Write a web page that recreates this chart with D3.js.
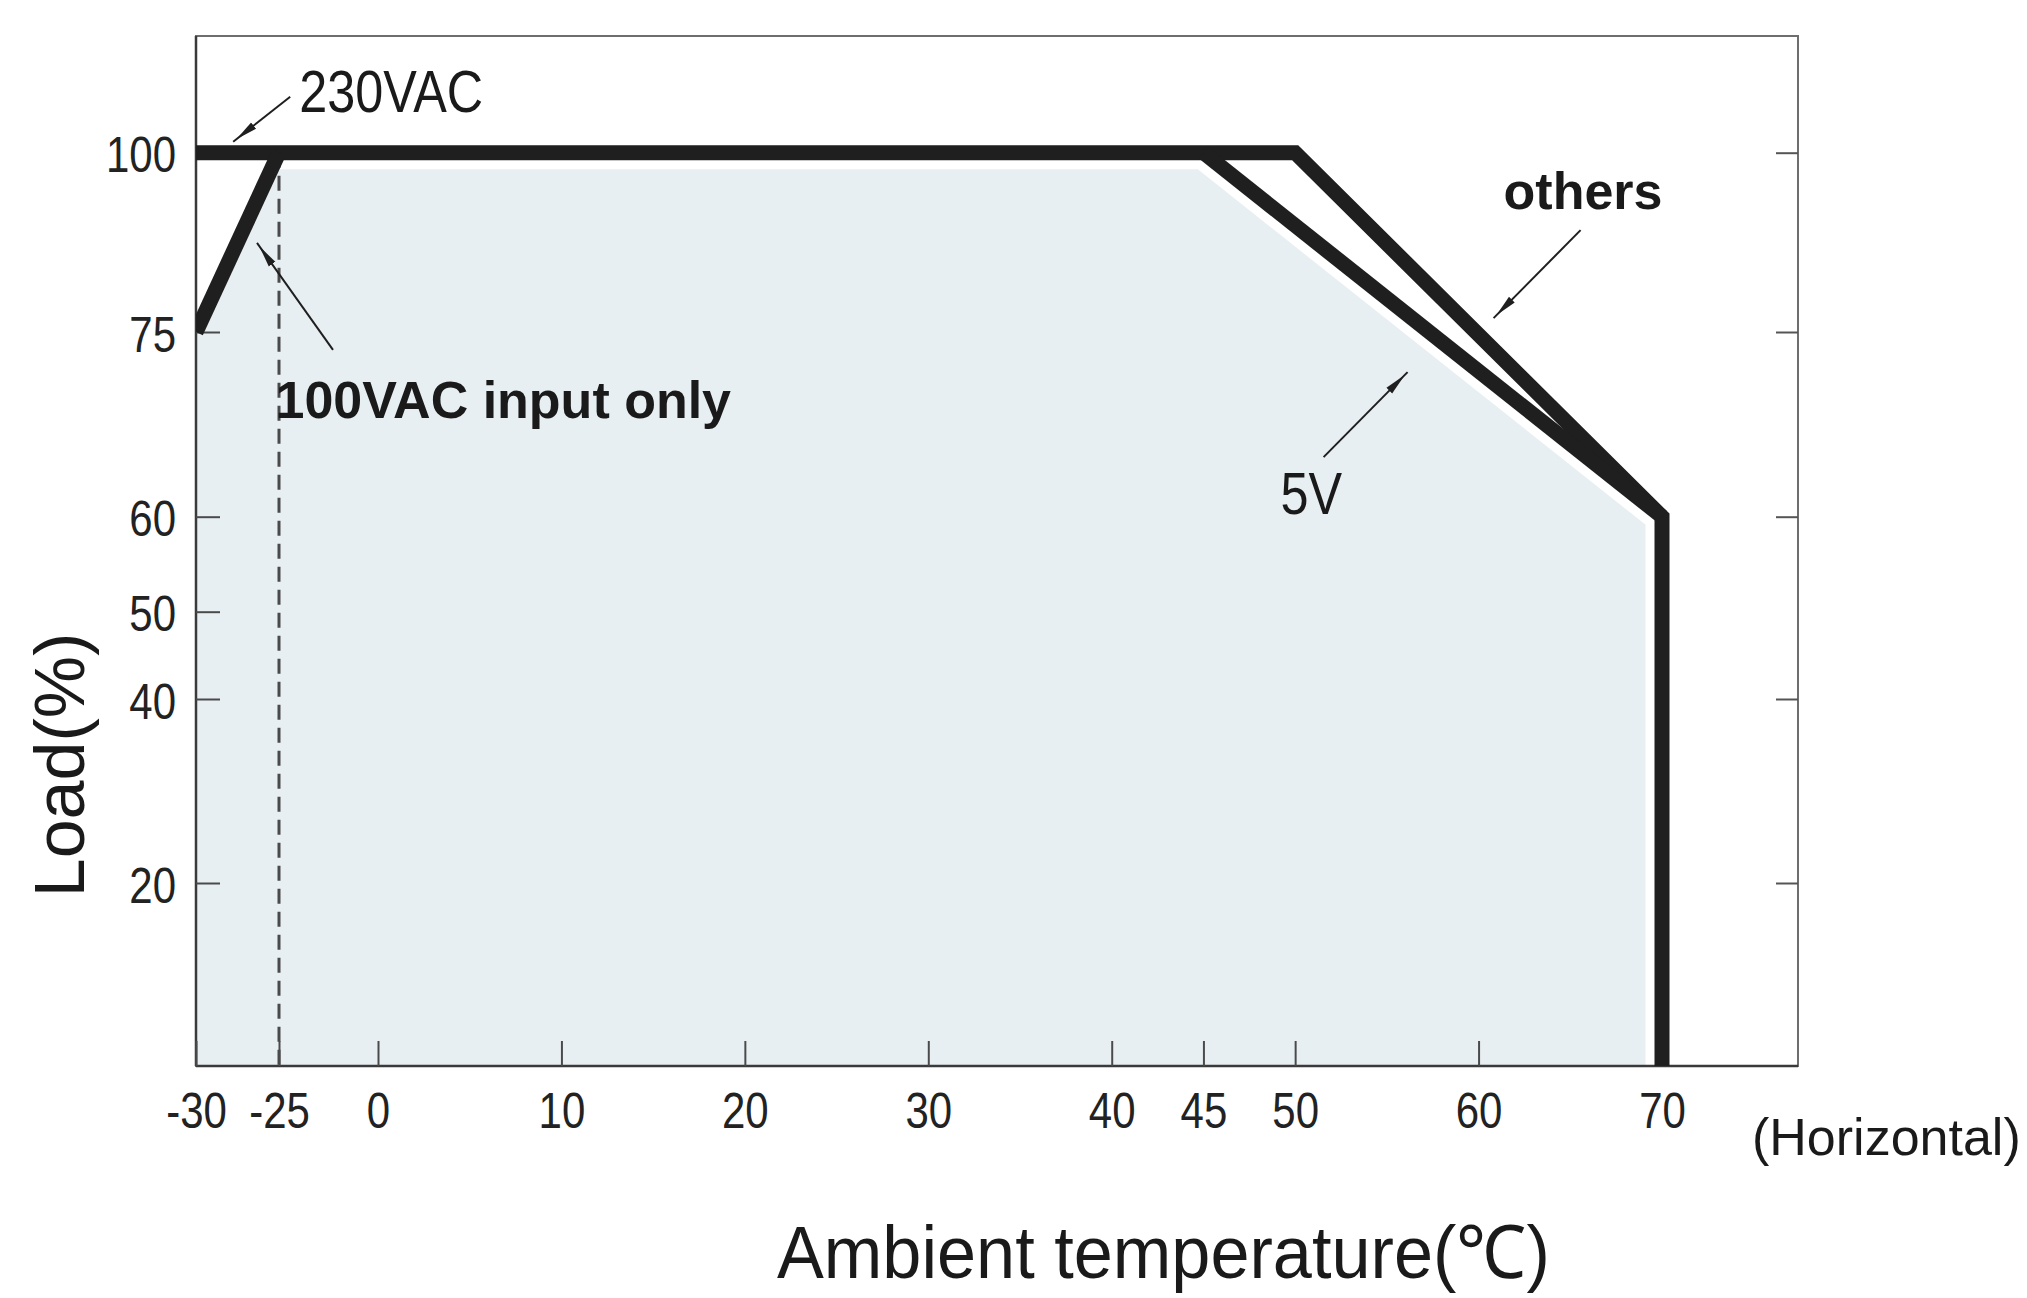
<!DOCTYPE html>
<html>
<head>
<meta charset="utf-8">
<script src="https://cdn.jsdelivr.net/npm/d3@7"></script>
<style>
html, body { margin: 0; padding: 0; background: #ffffff; }
svg { display: block; font-family: "Liberation Sans", Arial, Helvetica, sans-serif; }
</style>
</head>
<body>
<svg id="chart" width="2027" height="1298"></svg>
<script>
// ---------------- data ----------------
// "others" (230VAC) derating curve
const othersTemp = [-30, 50, 70, 70];
const othersLoad = [100, 100, 60, 0];
// 5V derating curve
const fiveVTemp = [45, 70];
const fiveVLoad = [100, 60];
// 100VAC input only (low-temperature) segment
const lowTemp = [-30, -25];
const lowLoad = [75, 100];
// axis ticks
const xTickValues = [-30, -25, 0, 10, 20, 30, 40, 45, 50, 60, 70];
const xTickLabels = ["-30", "-25", "0", "10", "20", "30", "40", "45", "50", "60", "70"];
const yTickValuesLeft = [20, 40, 50, 60, 75, 100];
const yTickLabelsLeft = ["20", "40", "50", "60", "75", "100"];
const yTickValuesRight = [20, 40, 60, 75, 100];
// dashed marker temperature
const dashedTemp = [-25];

// ---------------- layout ----------------
const W = 2027, H = 1298;
const L = 196, R = 1798, T = 36, B = 1066;
const condensed = 0.84;
const ink = "#1f1f1f";

const svg = d3.select("#chart");

// piecewise scales (axes in the original are not uniform)
const x = d3.scaleLinear().domain([-30, -25, 0, 70]).range([L, 279, 378, 1662]);
const y = d3.scaleLinear().domain([0, 20, 40, 50, 60, 75, 100])
  .range([B, 883, 699, 611.7, 516.7, 332, 152.7]);

const zip = (a, b) => a.map((v, i) => [v, b[i]]);
const othersPts = zip(othersTemp, othersLoad);
const fiveVPts = zip(fiveVTemp, fiveVLoad);
const lowPts = zip(lowTemp, lowLoad);

const line = d3.line().x(d => x(d[0])).y(d => y(d[1])).curve(d3.curveLinear);

// defs: clip + arrow marker
const defs = svg.append("defs");
defs.append("clipPath").attr("id", "plotClip")
  .append("rect").attr("x", L).attr("y", T).attr("width", R - L).attr("height", B - T);
defs.append("marker")
  .attr("id", "arrow").attr("viewBox", "0 -5 22 10")
  .attr("refX", 26).attr("refY", 0)
  .attr("markerUnits", "userSpaceOnUse")
  .attr("markerWidth", 22).attr("markerHeight", 10)
  .attr("orient", "auto")
  .append("path").attr("d", "M0,-4L22,0L0,4Z").attr("fill", ink);

// ---------------- fill under the 5V envelope ----------------
const lastOthers = othersPts[othersPts.length - 1];
const fillPts = [...lowPts, ...fiveVPts, lastOthers, [x.domain()[0], y.domain()[0]]];
svg.append("path")
  .attr("d", line(fillPts) + "Z")
  .attr("fill", "#e8eff3")
  .attr("stroke", "none");

// white halo along the envelope edge
const haloPts = [lowPts[lowPts.length - 1], ...fiveVPts, lastOthers];
svg.append("path")
  .attr("clip-path", "url(#plotClip)")
  .attr("d", line(haloPts))
  .attr("fill", "none")
  .attr("stroke", "#ffffff")
  .attr("stroke-width", 33)
  .attr("stroke-linejoin", "miter");

// dashed vertical at -25
svg.selectAll("line.dash").data(dashedTemp).join("line")
  .attr("class", "dash")
  .attr("x1", d => x(d)).attr("x2", d => x(d))
  .attr("y1", y(100)).attr("y2", B)
  .attr("stroke", "#4a4a4a")
  .attr("stroke-width", 3)
  .attr("stroke-dasharray", "15 8");

// ---------------- frame ----------------
svg.append("rect")
  .attr("x", L).attr("y", T).attr("width", R - L).attr("height", B - T)
  .attr("fill", "none").attr("stroke", "#6e6e6e").attr("stroke-width", 2);
svg.append("line").attr("x1", L).attr("x2", L).attr("y1", T).attr("y2", B)
  .attr("stroke", "#3a3a3a").attr("stroke-width", 2.5);
svg.append("line").attr("x1", L).attr("x2", R).attr("y1", B).attr("y2", B)
  .attr("stroke", "#3a3a3a").attr("stroke-width", 2.5);

// ---------------- axes ----------------
const fontFam = '"Liberation Sans", Arial, Helvetica, sans-serif';

const xAxis = d3.axisBottom(x)
  .tickValues(xTickValues)
  .tickFormat((d, i) => xTickLabels[i])
  .tickSizeInner(-25).tickSizeOuter(0).tickPadding(27);
const gx = svg.append("g").attr("transform", `translate(0,${B})`).call(xAxis);
gx.attr("font-family", fontFam).attr("font-size", 50);
gx.select(".domain").remove();
gx.selectAll(".tick line").attr("stroke", "#4a4a4a").attr("stroke-width", 2);
gx.selectAll(".tick text").attr("fill", "#222").attr("transform", `scale(${condensed},1)`);

const yAxisL = d3.axisLeft(y)
  .tickValues(yTickValuesLeft)
  .tickFormat((d, i) => yTickLabelsLeft[i])
  .tickSizeInner(-24).tickSizeOuter(0).tickPadding(20 / condensed);
const gyl = svg.append("g").attr("transform", `translate(${L},0)`).call(yAxisL);
gyl.attr("font-family", fontFam).attr("font-size", 50);
gyl.select(".domain").remove();
gyl.selectAll(".tick line").attr("stroke", "#4a4a4a").attr("stroke-width", 2);
gyl.selectAll(".tick text").attr("fill", "#222").attr("dy", "0.38em")
  .attr("transform", `scale(${condensed},1)`);

const yAxisR = d3.axisRight(y)
  .tickValues(yTickValuesRight)
  .tickFormat("")
  .tickSizeInner(-22).tickSizeOuter(0);
const gyr = svg.append("g").attr("transform", `translate(${R},0)`).call(yAxisR);
gyr.select(".domain").remove();
gyr.selectAll(".tick line").attr("stroke", "#555").attr("stroke-width", 2);

// ---------------- curves ----------------
const curves = svg.append("g").attr("clip-path", "url(#plotClip)");
[othersPts, fiveVPts, lowPts].forEach(pts => {
  curves.append("path")
    .attr("d", line(pts))
    .attr("fill", "none")
    .attr("stroke", ink)
    .attr("stroke-width", 15)
    .attr("stroke-linejoin", "miter")
    .attr("stroke-miterlimit", 10)
    .attr("stroke-linecap", "butt");
});

// ---------------- annotations ----------------
// anchors are data points; offsets are pixel placements of the callouts
const annotations = [
  { text: "230VAC", anchor: [-28, 100], tip: [4, -11], tail: [61, -56], label: [70, -41], size: 60, weight: "normal", squeeze: true },
  { text: "100VAC input only", anchor: [-27.5, 87.5], tip: [19.5, 0.6], tail: [95.5, 107.6], label: [38, 175.6], size: 52, weight: "bold", squeeze: false },
  { text: "others", anchor: [60, 80], tip: [15, 22], tail: [102, -66], label: [25, -87], size: 52, weight: "bold", squeeze: false },
  { text: "5V", anchor: [60, 80], tip: [-71, 76], tail: [-155, 161], label: [-198, 218], size: 60, weight: "normal", squeeze: true }
];
const ann = svg.append("g");
annotations.forEach(a => {
  const ax = x(a.anchor[0]), ay = y(a.anchor[1]);
  ann.append("line")
    .attr("x1", ax + a.tail[0]).attr("y1", ay + a.tail[1])
    .attr("x2", ax + a.tip[0]).attr("y2", ay + a.tip[1])
    .attr("stroke", ink).attr("stroke-width", 2)
    .attr("marker-end", "url(#arrow)");
  const tx = ax + a.label[0], ty = ay + a.label[1];
  const t = ann.append("text")
    .attr("font-size", a.size)
    .attr("font-weight", a.weight)
    .attr("fill", "#1a1a1a")
    .text(a.text);
  if (a.squeeze) {
    t.attr("transform", `translate(${tx},${ty}) scale(${condensed},1)`);
  } else {
    t.attr("x", tx).attr("y", ty);
  }
});

// ---------------- axis titles ----------------
svg.append("text")
  .attr("x", 777).attr("y", 1278)
  .attr("font-size", 74)
  .attr("fill", "#1a1a1a")
  .attr("textLength", 773).attr("lengthAdjust", "spacingAndGlyphs")
  .text("Ambient temperature(℃)");

svg.append("text")
  .attr("transform", "translate(84,765) rotate(-90)")
  .attr("text-anchor", "middle")
  .attr("font-size", 70)
  .attr("fill", "#1a1a1a")
  .text("Load(%)");

svg.append("text")
  .attr("x", 1752).attr("y", 1155)
  .attr("font-size", 52)
  .attr("fill", "#1a1a1a")
  .text("(Horizontal)");
</script>
</body>
</html>
